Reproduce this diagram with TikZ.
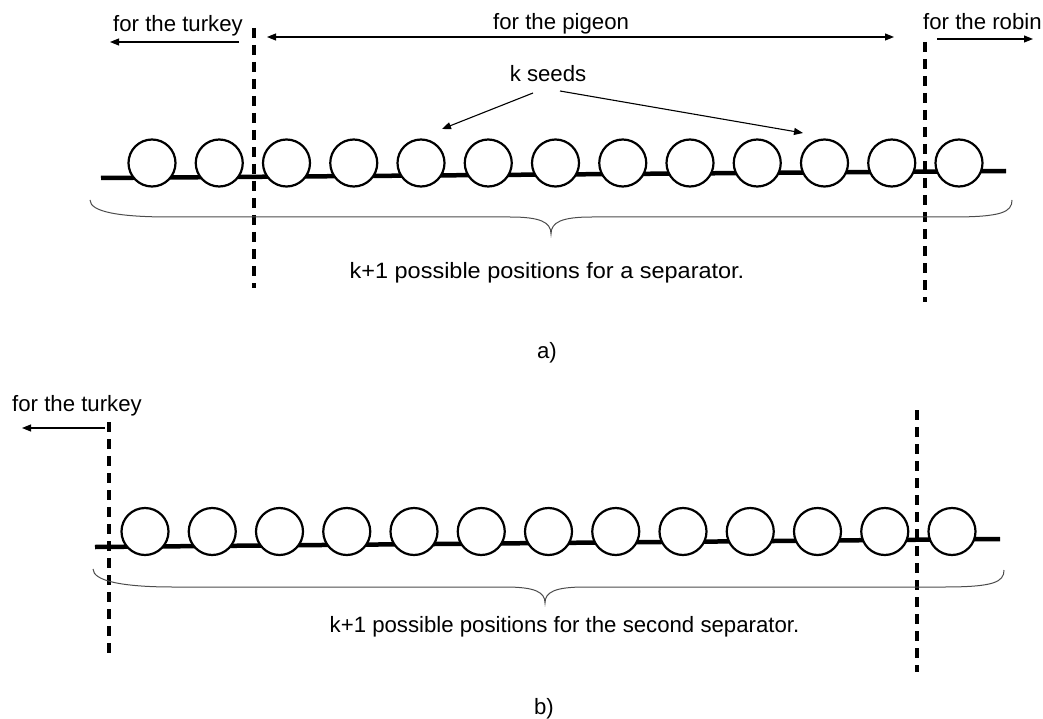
\documentclass[tikz,border=0pt]{standalone}
\usepackage{fontspec}
\setmainfont{Liberation Sans}
\usetikzlibrary{arrows.meta}
\begin{document}
\begin{tikzpicture}[x=1pt,y=-1pt,
  lbl/.style={font=\fontsize{22.2}{26}\selectfont, inner sep=0pt},
  seed/.style={circle, draw, line width=2.2pt, fill=white, minimum size=47pt, inner sep=0pt},
  chain/.style={line width=4.5pt},
  sep/.style={line width=3.3pt, dash pattern=on 10pt off 7pt},
  ptr/.style={line width=1.1pt, -{Triangle[length=9pt,width=7pt]}},
  brace/.style={line width=1pt, draw=black!70}]
\useasboundingbox (0,0) rectangle (1043,719);

% ---------------- part a) ----------------
\coordinate (a0) at (101,178);
\coordinate (a1) at (1006,171);
\draw[chain] (a0) -- (a1);
\foreach \i in {0,...,12} {
  \node[seed] (sa\i) at ({152+67.25*\i},163) {};
}
\draw[sep] (254,28) -- (254,288);
\draw[sep] (925,42) -- (925,302);

\node[lbl, anchor=base west] (turkeyA) at (113,31.7) {for the turkey};
\coordinate (ta0) at (239,42);
\coordinate (ta1) at (110,42);
\draw[ptr] (ta0) -- (ta1);

\node[lbl, anchor=base west] (pigeon) at (493,30) {for the pigeon};
\coordinate (pg0) at (267,37);
\coordinate (pg1) at (894,37);
\draw[ptr, {Triangle[length=9pt,width=7pt]}-{Triangle[length=9pt,width=7pt]}] (pg0) -- (pg1);

\node[lbl, anchor=base west] (robin) at (923,30) {for the robin};
\coordinate (rb0) at (937,39);
\coordinate (rb1) at (1033,39);
\draw[ptr] (rb0) -- (rb1);

\node[lbl, anchor=base] (seeds) at (548,82) {k seeds};
\draw[ptr] (533,93) -- (442,129);
\draw[ptr] (560,91) -- (803,133);

\draw[brace] (90,200) .. controls (90,212) and (120,217) .. (170,217) -- (510,217)
  .. controls (540,217) and (551,222) .. (551,234)
  .. controls (551,222) and (562,217) .. (592,217) -- (952,217)
  .. controls (1002,217) and (1012,212) .. (1012,200);

\node[lbl, anchor=base] (posA) at (547,278) {\scalebox{1.057}[1]{k+1 possible positions for a separator.}};
\node[lbl, anchor=base] (capA) at (547,358) {a)};

% ---------------- part b) ----------------
\coordinate (b0) at (95,547);
\coordinate (b1) at (1000,539);
\draw[chain] (b0) -- (b1);
\foreach \i in {0,...,12} {
  \node[seed] (sb\i) at ({145+67.25*\i},531.5) {};
}
\draw[sep] (109,422) -- (109,654);
\draw[sep] (917,410) -- (917,672);

\node[lbl, anchor=base west] (turkeyB) at (12,411) {for the turkey};
\coordinate (tb0) at (105,428);
\coordinate (tb1) at (22,428);
\draw[ptr] (tb0) -- (tb1);

\draw[brace] (93,569) .. controls (93,581) and (123,587) .. (173,587) -- (505,587)
  .. controls (535,587) and (545,592) .. (545,603)
  .. controls (545,592) and (555,587) .. (585,587) -- (944,587)
  .. controls (994,587) and (1004,582) .. (1004,570);

\node[lbl, anchor=base] (posB) at (564.5,632) {k+1 possible positions for the second separator.};
\node[lbl, anchor=base] (capB) at (544,714) {b)};
\end{tikzpicture}
\end{document}
